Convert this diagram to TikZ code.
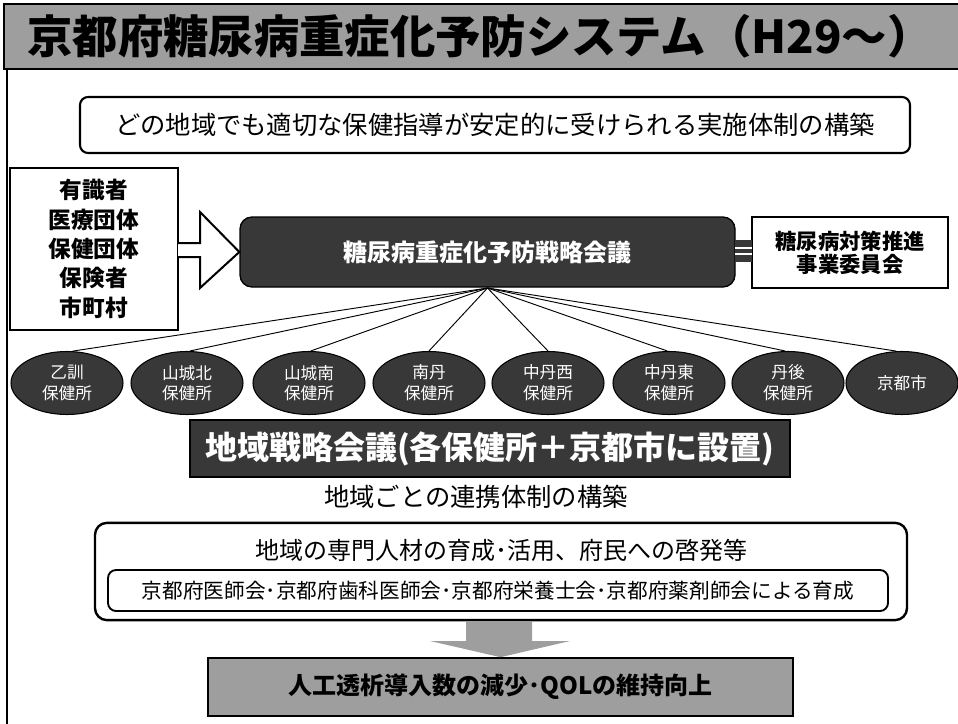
\documentclass[tikz,border=0pt]{standalone}
\usepackage{fontspec}
\newfontfamily\jp{Noto Sans CJK JP}
\usetikzlibrary{shapes.geometric}
\definecolor{darkfill}{gray}{0.22}
\definecolor{midgray}{gray}{0.62}
\tikzset{
  whitebox/.style={draw=black, line width=1.6pt, fill=white, rounded corners=6pt, inner sep=0pt},
  darkbox/.style={draw=black, line width=1pt, fill=darkfill, text=white, inner sep=0pt},
  office/.style={ellipse, draw=black, line width=0.8pt, fill=darkfill, text=white, inner sep=0pt,
     minimum width=84pt, minimum height=47.25pt, align=center, font=\jp\fontsize{12.5pt}{15.5pt}\selectfont},
  fan/.style={draw=black, line width=0.7pt},
}
\begin{document}
\begin{tikzpicture}[x=0.75pt,y=-0.75pt]
\useasboundingbox (0,0) rectangle (958,724);
% title bar
\node[draw=black, line width=1.5pt, fill=midgray, minimum width=716.25pt, minimum height=49pt, inner sep=0pt,
      anchor=north west] (title) at (3,3) {};
\node[font=\jp\bfseries\fontsize{34pt}{38pt}\selectfont, anchor=center] (titletext) at (480,36) {京都府糖尿病重症化予防システム（H29～）};
% frame left line
\coordinate (frametop) at (7,68);
\coordinate (framebot) at (7,724);
\draw[line width=1.5pt] (frametop) -- (framebot);
% top statement box
\node[whitebox, minimum width=622.5pt, minimum height=42pt, font=\jp\fontsize{19pt}{23pt}\selectfont] (goal) at (495,125)
  {どの地域でも適切な保健指導が安定的に受けられる実施体制の構築};
% left stakeholder box
\node[draw=black, line width=2.2pt, fill=white, inner sep=0pt, minimum width=126pt, minimum height=121.5pt,
      align=center, font=\jp\bfseries\fontsize{17pt}{22pt}\selectfont] (stake) at (94,249)
  {有識者\\医療団体\\保健団体\\保険者\\市町村};
% central dark box
\node[darkbox, rounded corners=9pt, minimum width=371.25pt, minimum height=52.5pt,
      font=\jp\bfseries\fontsize{18pt}{22pt}\selectfont] (council) at (487.5,252) {糖尿病重症化予防戦略会議};
% right box
\node[draw=black, line width=1.6pt, fill=white, inner sep=0pt, minimum width=147pt, minimum height=53.25pt,
      align=center, font=\jp\bfseries\fontsize{16pt}{17.5pt}\selectfont] (committee) at (850,252.5)
  {糖尿病対策推進\\事業委員会};
% open arrow from stakeholders
\coordinate (a1) at (178,243);
\coordinate (a7) at (178,257);
\draw[line width=1.5pt, fill=white, line join=miter]
  (a1) -- (200,243) -- (200,212) -- (council.west) -- (200,288) -- (200,257) -- (a7);
% connector between council and committee
\coordinate (c1) at (735,240);
\coordinate (c2) at (752,262);
\fill[darkfill] (c1) rectangle (c2);
\coordinate (l1) at (735,248);
\coordinate (l2) at (752,248);
\coordinate (l3) at (735,254);
\coordinate (l4) at (752,254);
\draw[white, line width=0.9pt] (l1) -- (l2);
\draw[white, line width=0.9pt] (l3) -- (l4);
% offices
\node[office] (e1) at (67,383) {乙訓\\保健所};
\node[office] (e2) at (187,383) {山城北\\保健所};
\node[office] (e3) at (309,383) {山城南\\保健所};
\node[office] (e4) at (429,383) {南丹\\保健所};
\node[office] (e5) at (548,383) {中丹西\\保健所};
\node[office] (e6) at (669,383) {中丹東\\保健所};
\node[office] (e7) at (788,383) {丹後\\保健所};
\node[office] (e8) at (902,383) {京都市};
% fan lines
\coordinate (hub) at (487.5,288);
\foreach \i/\a in {1/80,2/85,3/87,4/90,5/90,6/93,7/95,8/100}
  \draw[fan] (hub) -- (e\i.\a);
% regional council bar
\node[darkbox, minimum width=450pt, minimum height=42.75pt,
      font=\jp\bfseries\fontsize{24pt}{28pt}\selectfont] (regional) at (490,448.5) {地域戦略会議(各保健所＋京都市に設置)};
\node[font=\jp\fontsize{19pt}{23pt}\selectfont] (regtext) at (476,497) {地域ごとの連携体制の構築};
% human resources box
\node[whitebox, line width=1.8pt, rounded corners=9pt, minimum width=609pt, minimum height=73pt] (hr) at (501,571.5) {};
\node[font=\jp\fontsize{18pt}{22pt}\selectfont] (hrtext) at (501,550) {地域の専門人材の育成･活用、府民への啓発等};
\node[whitebox, line width=1.4pt, minimum width=585pt, minimum height=30.75pt, font=\jp\fontsize{15.5pt}{18pt}\selectfont] (assoc) at (498,590.5)
  {京都府医師会･京都府歯科医師会･京都府栄養士会･京都府薬剤師会による育成};
% outcome box
\node[draw=black, line width=1.2pt, fill=midgray, minimum width=438.75pt, minimum height=43.5pt, inner sep=0pt,
      font=\jp\bfseries\fontsize{18pt}{22pt}\selectfont] (outcome) at (500.5,687) {人工透析導入数の減少･QOLの維持向上};
% down arrow
\coordinate (d1) at (466,621);
\coordinate (d2) at (532,621);
\coordinate (d3) at (532,641);
\coordinate (d4) at (570,641);
\coordinate (d6) at (430,641);
\coordinate (d7) at (466,641);
\fill[midgray] (d1) -- (d2) -- (d3) -- (d4) -- (outcome.north) -- (d6) -- (d7) -- cycle;
\end{tikzpicture}
\end{document}
